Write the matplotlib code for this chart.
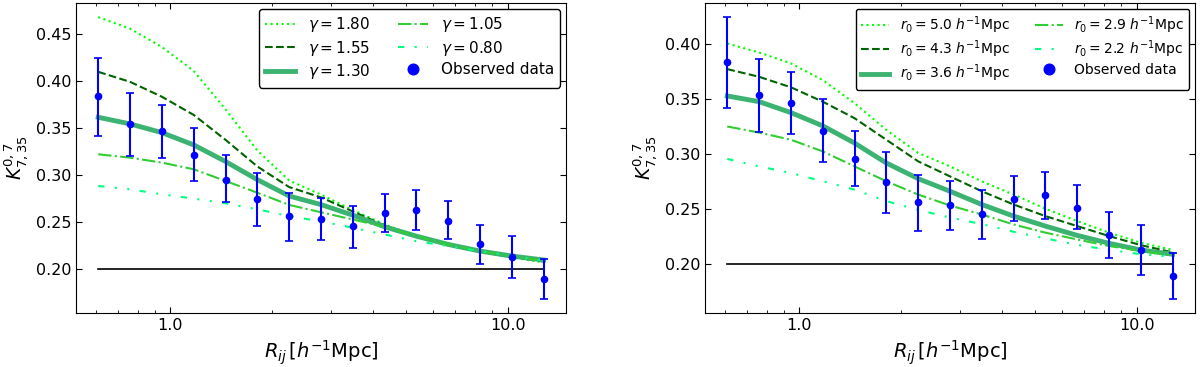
import numpy as np
import matplotlib
matplotlib.use("Agg")
import matplotlib.pyplot as plt
from matplotlib.ticker import FormatStrFormatter, NullFormatter

# ---------------- data ----------------
R = [0.6109, 0.7592, 0.9434, 1.1723, 1.4568, 1.8103, 2.2496, 2.7955,
     3.4739, 4.3168, 5.3644, 6.6661, 8.2837, 10.294, 12.792]

obs = [0.384, 0.354, 0.347, 0.321, 0.295, 0.274, 0.256, 0.253,
       0.245, 0.259, 0.263, 0.251, 0.226, 0.212, 0.189]
obs_lo = [0.342, 0.320, 0.318, 0.293, 0.271, 0.246, 0.230, 0.231,
          0.222, 0.239, 0.241, 0.232, 0.205, 0.190, 0.168]
obs_hi = [0.425, 0.387, 0.375, 0.350, 0.321, 0.302, 0.281, 0.275,
          0.267, 0.280, 0.284, 0.272, 0.247, 0.235, 0.210]

# left panel: varying gamma
gamma_labels = ["1.80", "1.55", "1.30", "1.05", "0.80"]
g180 = [0.4684, 0.4560, 0.4365, 0.4110, 0.3700, 0.3260, 0.2940, 0.2790,
        0.2625, 0.2471, 0.2346, 0.2250, 0.2175, 0.2120, 0.2065]
g155 = [0.4100, 0.3993, 0.3834, 0.3640, 0.3374, 0.3090, 0.2870, 0.2760,
        0.2610, 0.2460, 0.2345, 0.2255, 0.2183, 0.2128, 0.2075]
g130 = [0.3615, 0.3544, 0.3451, 0.3320, 0.3143, 0.2949, 0.2775, 0.2683,
        0.2570, 0.2446, 0.2346, 0.2258, 0.2187, 0.2134, 0.2092]
g105 = [0.3220, 0.3184, 0.3131, 0.3060, 0.2935, 0.2810, 0.2680, 0.2601,
        0.2524, 0.2446, 0.2346, 0.2258, 0.2187, 0.2132, 0.2085]
g080 = [0.2882, 0.2846, 0.2793, 0.2747, 0.2697, 0.2633, 0.2560, 0.2505,
        0.2436, 0.2364, 0.2293, 0.2240, 0.2187, 0.2134, 0.2085]

# right panel: varying r0
r0_labels = ["5.0", "4.3", "3.6", "2.9", "2.2"]
r50 = [0.4009, 0.3927, 0.3827, 0.3675, 0.3464, 0.3220, 0.3010, 0.2887,
       0.2750, 0.2630, 0.2500, 0.2388, 0.2282, 0.2190, 0.2125]
r43 = [0.3775, 0.3705, 0.3609, 0.3478, 0.3327, 0.3130, 0.2933, 0.2796,
       0.2660, 0.2539, 0.2433, 0.2342, 0.2251, 0.2168, 0.2102]
r36 = [0.3530, 0.3478, 0.3378, 0.3257, 0.3100, 0.2918, 0.2775, 0.2660,
       0.2539, 0.2433, 0.2342, 0.2257, 0.2185, 0.2124, 0.2085]
r29 = [0.3251, 0.3196, 0.3130, 0.3024, 0.2887, 0.2751, 0.2630, 0.2530,
       0.2448, 0.2357, 0.2282, 0.2220, 0.2160, 0.2115, 0.2075]
r22 = [0.2955, 0.2887, 0.2827, 0.2751, 0.2675, 0.2570, 0.2490, 0.2420,
       0.2360, 0.2290, 0.2230, 0.2170, 0.2125, 0.2085, 0.2062]

baseline = 0.20

# ---------------- styles ----------------
styles = [
    dict(color="lime", ls=":", lw=1.5),
    dict(color="darkgreen", ls="--", lw=1.5),
    dict(color="mediumseagreen", ls="-", lw=3.5),
    dict(color="limegreen", ls="-.", lw=1.5),
    dict(color="springgreen", ls=(0, (3, 5, 1, 5, 1, 5)), lw=1.5),
]

fig = plt.figure(figsize=(12, 3.67), dpi=100)
ax1 = fig.add_axes([0.0633, 0.148, 0.4084, 0.8438])
ax2 = fig.add_axes([0.5875, 0.148, 0.4083, 0.8438])

obs_arr = np.array(obs)
yerr = [obs_arr - np.array(obs_lo), np.array(obs_hi) - obs_arr]


def draw(ax, curves, labels, fs, lsp):
    for c, lab, st in zip(curves, labels, styles):
        ax.plot(R, c, label=lab, **st)
    ax.plot([R[0], R[-1]], [baseline, baseline], color="black", lw=1.2)
    ax.errorbar(R, obs, yerr=yerr, fmt="none", ecolor="blue", elinewidth=1.5,
                capsize=3, capthick=1.2)
    ax.plot(R, obs, "o", color="blue", ms=4.5, label="Observed data")
    ax.set_xscale("log")
    ax.xaxis.set_major_formatter(FormatStrFormatter("%.1f"))
    ax.xaxis.set_minor_formatter(NullFormatter())
    ax.tick_params(which="both", direction="in", top=True, right=True)
    ax.tick_params(which="major", labelsize=11.5, length=4)
    ax.tick_params(which="minor", length=2.5)
    ax.yaxis.set_major_formatter(FormatStrFormatter("%.2f"))
    ax.set_xlabel(r"$R_{ij}\,[h^{-1}{\rm Mpc}]$", fontsize=14)
    ax.set_ylabel(r"$K^{0,7}_{7,35}$", fontsize=13.5)
    leg = ax.legend(loc="upper right", ncol=2, fontsize=fs, markerscale=1.7,
                    frameon=True, edgecolor="black", framealpha=1,
                    columnspacing=1.8, labelspacing=lsp,
                    borderaxespad=0.4)
    leg.get_frame().set_linewidth(1.0)


draw(ax1, [g180, g155, g130, g105, g080],
     [r"$\gamma = %s$" % g for g in gamma_labels], 11, 0.3)
draw(ax2, [r50, r43, r36, r29, r22],
     [r"$r_0 = %s\ h^{-1}$Mpc" % r for r in r0_labels], 10, 0.2)

fig.savefig("out.png", dpi=100)
